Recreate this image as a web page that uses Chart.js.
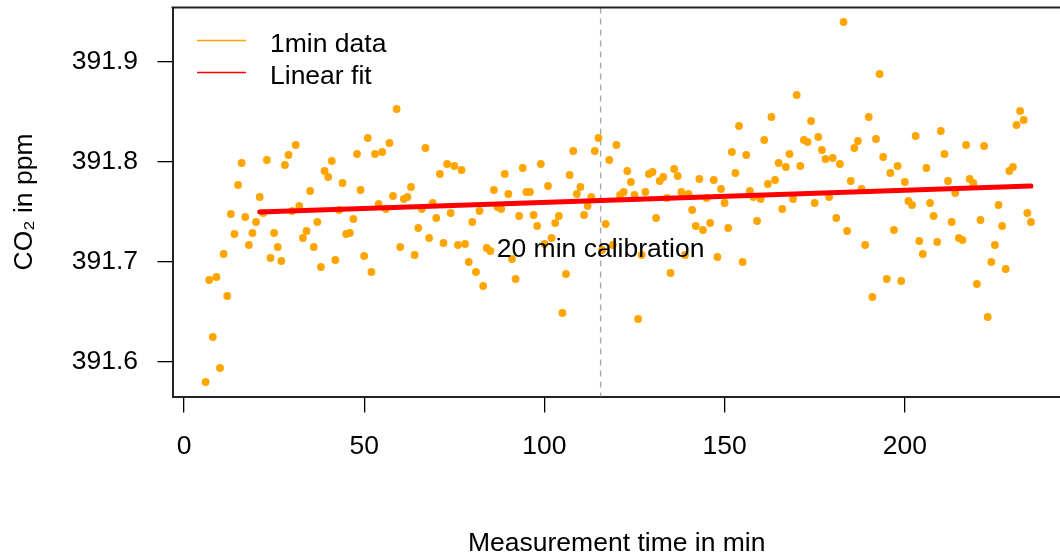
<!DOCTYPE html>
<html>
<head>
<meta charset="utf-8">
<script src="https://cdn.jsdelivr.net/npm/chart.js@4/dist/chart.umd.min.js"></script>
<style>
  html, body { margin: 0; padding: 0; background: #fff; overflow: hidden; }
  canvas { display: block; }
</style>
</head>
<body>
<canvas id="co2Chart" width="1065" height="558"></canvas>
<script>
const minutes = [
  6,7,8,9,10,11,12,13,14,15,
  16,17,18,19,20,21,22,23,24,25,
  26,27,28,29,30,31,32,33,34,35,
  36,37,38,39,40,41,42,43,44,45,
  46,47,48,49,50,51,52,53,54,55,
  56,57,58,59,60,61,62,63,64,65,
  66,67,68,69,70,71,72,73,74,75,
  76,77,78,79,80,81,82,83,84,85,
  86,87,88,89,90,91,92,93,94,95,
  96,97,98,99,100,101,102,103,104,105,
  106,107,108,109,110,111,112,113,114,115,
  116,117,118,119,120,121,122,123,124,125,
  126,127,128,129,130,131,132,133,134,135,
  136,137,138,139,140,141,142,143,144,145,
  146,147,148,149,150,151,152,153,154,155,
  156,157,158,159,160,161,162,163,164,165,
  166,167,168,169,170,171,172,173,174,175,
  176,177,178,179,180,181,182,183,184,185,
  186,187,188,189,190,191,192,193,194,195,
  196,197,198,199,200,201,202,203,204,205,
  206,207,208,209,210,211,212,213,214,215,
  216,217,218,219,220,221,222,223,224,225,
  226,227,228,229,230,231,232,233,234,235
];

const co2 = [
  391.580,391.682,391.625,391.685,391.594,391.708,391.666,391.748,391.728,391.777,
  391.799,391.745,391.717,391.729,391.740,391.765,391.749,391.802,391.704,391.729,
  391.715,391.701,391.797,391.807,391.751,391.817,391.756,391.724,391.731,391.771,
  391.715,391.740,391.695,391.791,391.785,391.801,391.702,391.752,391.779,391.728,
  391.729,391.743,391.808,391.772,391.706,391.824,391.690,391.808,391.758,391.810,
  391.753,391.819,391.766,391.853,391.715,391.763,391.765,391.775,391.707,391.734,
  391.753,391.814,391.724,391.759,391.744,391.788,391.719,391.798,391.749,391.796,
  391.717,391.792,391.718,391.700,391.740,391.690,391.751,391.676,391.714,391.711,
  391.772,391.755,391.753,391.788,391.768,391.703,391.683,391.746,391.794,391.770,
  391.770,391.747,391.736,391.798,391.718,391.776,391.724,391.739,391.746,391.649,
  391.688,391.787,391.811,391.768,391.775,391.747,391.756,391.765,391.811,391.824,
  391.712,391.738,391.802,391.717,391.817,391.767,391.770,391.791,391.780,391.767,
  391.643,391.707,391.770,391.788,391.790,391.744,391.781,391.785,391.764,391.689,
  391.793,391.786,391.770,391.707,391.768,391.752,391.736,391.783,391.732,391.764,
  391.739,391.782,391.705,391.773,391.759,391.734,391.810,391.789,391.836,391.700,
  391.807,391.771,391.765,391.741,391.763,391.822,391.778,391.845,391.782,391.799,
  391.753,391.795,391.808,391.763,391.867,391.796,391.822,391.820,391.841,391.759,
  391.825,391.812,391.803,391.765,391.804,391.744,391.798,391.940,391.731,391.781,
  391.814,391.821,391.773,391.717,391.845,391.665,391.823,391.888,391.805,391.683,
  391.789,391.732,391.796,391.681,391.780,391.761,391.757,391.826,391.721,391.708,
  391.794,391.759,391.746,391.720,391.831,391.808,391.781,391.740,391.769,391.724,
  391.722,391.817,391.783,391.779,391.678,391.742,391.816,391.645,391.700,391.717,
  391.757,391.736,391.693,391.791,391.795,391.837,391.851,391.842,391.749,391.740
];

// linear fit, end points
const fitMinutes = [21, 235];
const fitCo2 = [391.750, 391.776];

// calibration marker
const calibrationMinute = 115.6;
const calibrationLabel = "20 min calibration";
const calibrationLabelY = 391.712;

const xTicks = [0, 50, 100, 150, 200];
const yTicks = [391.6, 391.7, 391.8, 391.9];

const FONT = '"Liberation Sans", Arial, Helvetica, sans-serif';
const FS = 26.5;

const pointData = minutes.map((m, i) => ({ x: m, y: co2[i] }));
const fitData = fitMinutes.map((m, i) => ({ x: m, y: fitCo2[i] }));

const extras = {
  id: "extras",
  beforeDatasetsDraw(chart) {
    const { ctx, chartArea: a, scales: { x } } = chart;
    const px = x.getPixelForValue(calibrationMinute);
    ctx.save();
    ctx.strokeStyle = "#aaaaaa";
    ctx.lineWidth = 1.4;
    ctx.setLineDash([6, 5]);
    ctx.beginPath();
    ctx.moveTo(px, a.top);
    ctx.lineTo(px, a.bottom);
    ctx.stroke();
    ctx.restore();
  },
  afterDatasetsDraw(chart) {
    const { ctx, chartArea: a, scales: { x, y } } = chart;
    ctx.save();
    // top frame line
    ctx.strokeStyle = "#222";
    ctx.lineWidth = 2;
    ctx.beginPath();
    ctx.moveTo(a.left - 1, a.top);
    ctx.lineTo(a.right + 5, a.top);
    ctx.stroke();

    // calibration text
    ctx.fillStyle = "#000";
    ctx.font = FS + "px " + FONT;
    ctx.textAlign = "center";
    ctx.textBaseline = "middle";
    ctx.fillText(calibrationLabel, x.getPixelForValue(calibrationMinute), y.getPixelForValue(calibrationLabelY));

    // legend
    ctx.textAlign = "left";
    ctx.textBaseline = "alphabetic";
    chart.data.datasets.forEach((ds, i) => {
      const ly = a.top + 33 + i * 32;
      ctx.strokeStyle = ds.legendColor;
      ctx.lineWidth = 1.6;
      ctx.beginPath();
      ctx.moveTo(a.left + 24.5, ly);
      ctx.lineTo(a.left + 73.5, ly);
      ctx.stroke();
      ctx.fillText(ds.label, a.left + 97.5, ly + 11.5);
    });
    ctx.restore();
  }
};

new Chart(document.getElementById("co2Chart"), {
  type: "scatter",
  data: {
    datasets: [
      {
        label: "1min data",
        legendColor: "#FFA500",
        data: pointData,
        pointRadius: 3.9,
        pointBackgroundColor: "#FFA500",
        pointBorderWidth: 0,
        showLine: false,
        order: 2
      },
      {
        label: "Linear fit",
        legendColor: "#FF0000",
        data: fitData,
        showLine: true,
        borderColor: "#FF0000",
        borderWidth: 5,
        borderCapStyle: "round",
        pointRadius: 0,
        order: 1
      }
    ]
  },
  options: {
    responsive: false,
    animation: false,
    layout: { padding: { top: 7.5, left: 0, right: 0, bottom: 0 } },
    plugins: { legend: { display: false }, tooltip: { enabled: false } },
    scales: {
      x: {
        type: "linear",
        min: -3.19,
        max: 243.34,
        afterFit: s => { s.height = 161.5; s.paddingLeft = 0; s.paddingRight = 0; },
        afterBuildTicks: s => { s.ticks = xTicks.map(v => ({ value: v })); },
        grid: { drawOnChartArea: false, drawTicks: true, tickLength: 16, color: "#000", lineWidth: 1.3 },
        border: { display: true, color: "#222", width: 2 },
        ticks: { color: "#000", font: { family: FONT, size: FS }, padding: 18, maxRotation: 0, autoSkip: false },
        title: { display: true, text: "Measurement time in min", color: "#000", font: { family: FONT, size: FS }, padding: { top: 0, bottom: -2 } }
      },
      y: {
        type: "linear",
        min: 391.5655,
        max: 391.9545,
        afterFit: s => { s.width = 172.5; s.paddingTop = 0; s.paddingBottom = 0; },
        afterBuildTicks: s => { s.ticks = yTicks.map(v => ({ value: v })); },
        grid: { drawOnChartArea: false, drawTicks: true, tickLength: 15, color: "#000", lineWidth: 1.3 },
        border: { display: true, color: "#222", width: 2 },
        ticks: { color: "#000", font: { family: FONT, size: FS }, padding: 19.5, callback: v => v.toFixed(1) },
        title: { display: true, text: "CO₂ in ppm", color: "#000", font: { family: FONT, size: FS }, padding: { top: 9, bottom: 0 } }
      }
    }
  },
  plugins: [extras]
});
</script>
</body>
</html>
